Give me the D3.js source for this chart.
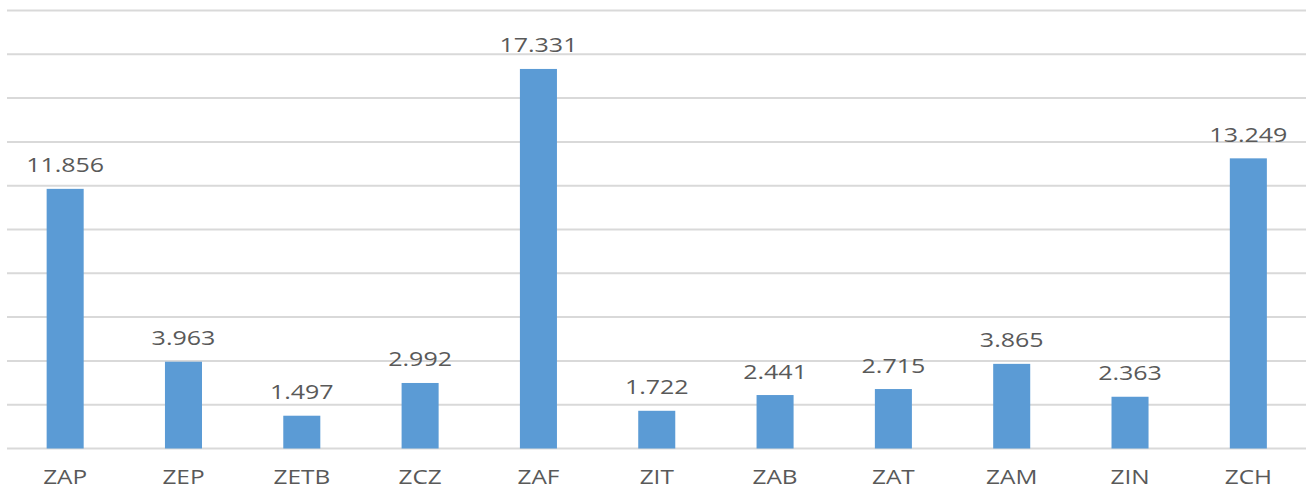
<!DOCTYPE html>
<html>
<head>
<meta charset="utf-8">
<script src="https://cdn.jsdelivr.net/npm/d3@7"></script>
<style>
  html, body { margin: 0; padding: 0; background: #fff; }
  #container { width: 1306px; height: 492px; }
  text { font-family: "Open Sans", sans-serif; fill: #595959; }
</style>
</head>
<body>
<div id="container"></div>
<script>
var categories = ['ZAP', 'ZEP', 'ZETB', 'ZCZ', 'ZAF', 'ZIT', 'ZAB', 'ZAT', 'ZAM', 'ZIN', 'ZCH'];
var values = [11.856, 3.963, 1.497, 2.992, 17.331, 1.722, 2.441, 2.715, 3.865, 2.363, 13.249];
var gridTicks = [0, 2, 4, 6, 8, 10, 12, 14, 16, 18, 20];

var W = 1306, H = 492;
var stretch = 1.25; // labels in the picture are drawn wide

var svg = d3.select('#container')
  .append('svg')
  .attr('width', W)
  .attr('height', H);

var x = d3.scaleBand()
  .domain(categories)
  .range([6, 1307.5])
  .paddingInner(0.687)
  .paddingOuter(0.3435);

var y = d3.scaleLinear()
  .domain([0, 20])
  .range([448.5, 10.5]);

// gridlines
svg.append('g')
  .selectAll('line')
  .data(gridTicks)
  .enter()
  .append('line')
  .attr('x1', 7)
  .attr('x2', W)
  .attr('y1', function(d) { return y(d); })
  .attr('y2', function(d) { return y(d); })
  .attr('stroke', '#d9d9d9')
  .attr('stroke-width', 2);

// bars
svg.append('g')
  .selectAll('rect')
  .data(values)
  .enter()
  .append('rect')
  .attr('x', function(d, i) { return x(categories[i]); })
  .attr('y', function(d) { return y(d); })
  .attr('width', x.bandwidth())
  .attr('height', function(d) { return y(0) - y(d); })
  .attr('fill', '#5b9bd5');

// value labels
svg.append('g')
  .selectAll('text')
  .data(values)
  .enter()
  .append('text')
  .attr('transform', function(d, i) {
    var cx = x(categories[i]) + x.bandwidth() / 2;
    return 'translate(' + cx + ',' + (y(d) - 16.5) + ') scale(' + stretch + ',1)';
  })
  .attr('text-anchor', 'middle')
  .style('font-size', '20px')
  .text(function(d) { return d3.format('.3f')(d); });

// category labels
svg.append('g')
  .selectAll('text')
  .data(categories)
  .enter()
  .append('text')
  .attr('transform', function(d) {
    var cx = x(d) + x.bandwidth() / 2;
    return 'translate(' + cx + ',484) scale(' + stretch + ',1)';
  })
  .attr('text-anchor', 'middle')
  .style('font-size', '19.5px')
  .text(function(d) { return d; });
</script>
</body>
</html>
